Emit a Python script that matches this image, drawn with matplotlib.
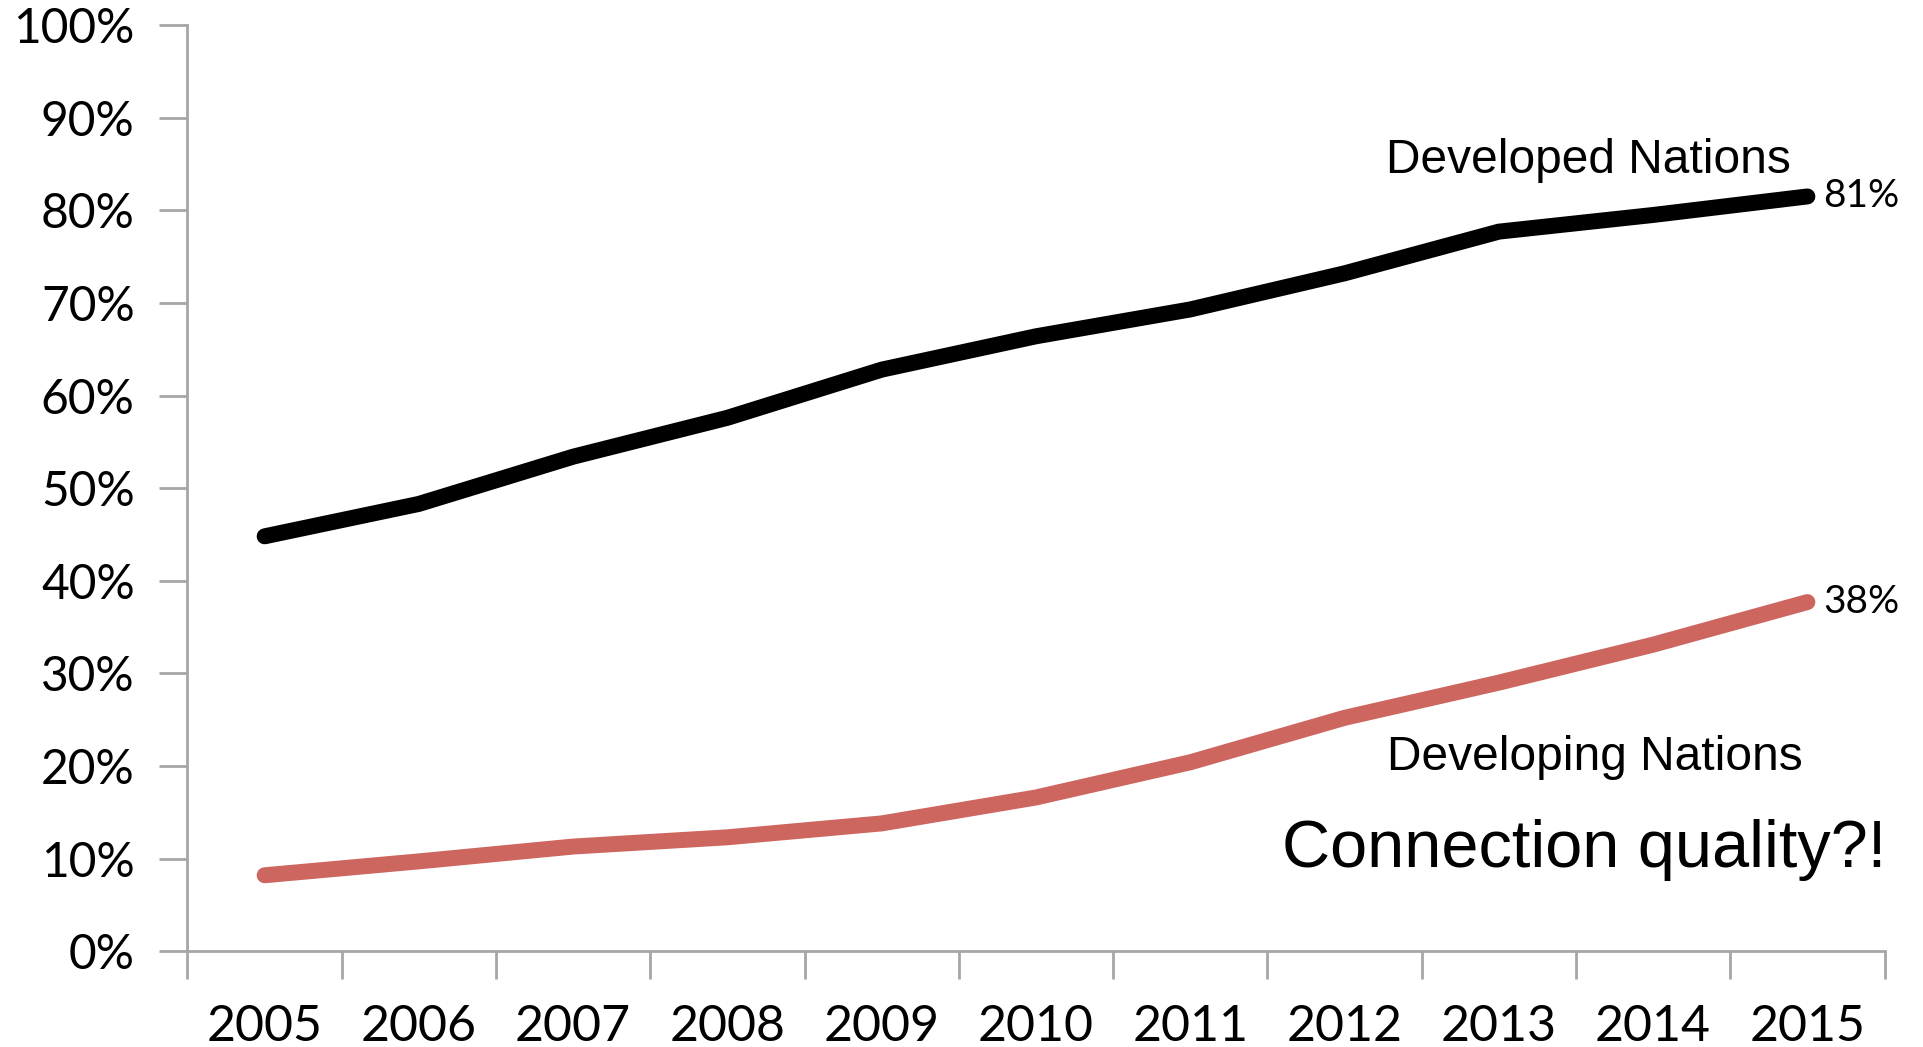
import matplotlib
matplotlib.use("Agg")
import matplotlib.pyplot as plt
import numpy as np

years = ["2005", "2006", "2007", "2008", "2009", "2010",
         "2011", "2012", "2013", "2014", "2015"]
developed = [44.8, 48.3, 53.4, 57.6, 62.8, 66.4, 69.3, 73.2, 77.7, 79.5, 81.5]
developing = [8.2, 9.7, 11.3, 12.3, 13.8, 16.6, 20.4, 25.2, 29.0, 33.1, 37.7]
y_ticks = [0, 10, 20, 30, 40, 50, 60, 70, 80, 90, 100]

axis_grey = "#A6A6A6"
red = "#CD665F"
tick_font = "Lato"
label_font = "Liberation Sans"

fig = plt.figure(figsize=(19.23, 10.47), dpi=100)
ax = fig.add_axes([0.0975, 0.0915, 0.8825, 0.8845])

x = np.arange(len(years))
ax.plot(x, developed, color="black", lw=11.5, solid_capstyle="round",
        solid_joinstyle="round")
ax.plot(x, developing, color=red, lw=11.5, solid_capstyle="round",
        solid_joinstyle="round")

ax.set_xlim(-0.5, len(years) - 0.5)
ax.set_ylim(0, 100)

# category labels sit between the tick marks
ax.set_xticks(np.arange(-0.5, len(years), 1.0))
ax.set_xticklabels([])
ax.set_xticks(x, minor=True)
ax.set_xticklabels(years, minor=True, fontsize=36, family=tick_font)
ax.tick_params(axis="x", which="minor", length=0, pad=38)
ax.tick_params(axis="x", which="major", length=20, width=2, color=axis_grey,
               direction="out")

ax.set_yticks(y_ticks)
ax.set_yticklabels(["{}%".format(v) for v in y_ticks], fontsize=34.5,
                   family=tick_font)
ax.tick_params(axis="y", length=20, width=2, color=axis_grey, pad=18)

for side in ["top", "right"]:
    ax.spines[side].set_visible(False)
for side in ["left", "bottom"]:
    ax.spines[side].set_color(axis_grey)
    ax.spines[side].set_linewidth(2)

# annotations
ax.text(8.58, 85.4, "Developed Nations", fontsize=34.5, family=label_font,
        ha="center", va="center")
ax.text(8.62, 20.9, "Developing Nations", fontsize=34.5, family=label_font,
        ha="center", va="center")
ax.text(8.55, 10.9, "Connection quality?!", fontsize=48, family=label_font,
        ha="center", va="center")
ax.text(10.1, developed[-1], "{:.0f}%".format(81), fontsize=28,
        family=tick_font, ha="left", va="center")
ax.text(10.1, developing[-1], "{:.0f}%".format(38), fontsize=28,
        family=tick_font, ha="left", va="center")

fig.savefig("out.png", dpi=100)
